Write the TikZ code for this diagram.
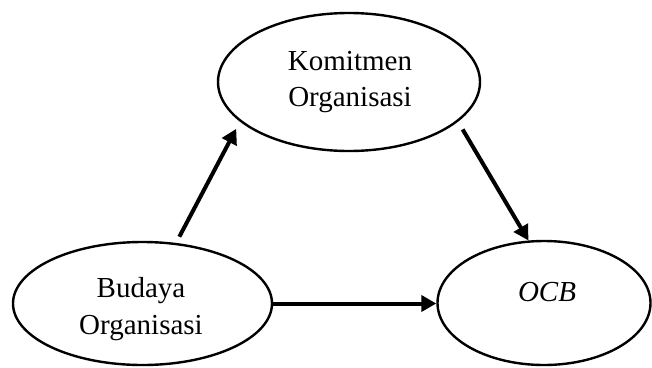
\documentclass[tikz,border=0pt]{standalone}
\usepackage{fontspec}
\setmainfont{Liberation Serif}
\usetikzlibrary{arrows.meta, shapes.geometric}
\tikzset{
  oval/.style={draw, ellipse, line width=2.4pt, inner sep=0pt},
  termtext/.style={align=center, inner sep=0pt, font=\fontsize{29}{36.5}\selectfont},
  linkarrow/.style={line width=4pt, -{Triangle[length=15pt,width=16pt]}},
}

\begin{document}
\begin{tikzpicture}[x=1pt, y=-1pt]
    \useasboundingbox (0,0) rectangle (652,367);

    % Draw the three variables
    \node[oval, minimum width=262pt, minimum height=138pt] (kom) at (349,82) {};
    \node[oval, minimum width=259pt, minimum height=123pt] (bud) at (142.5,303.5) {};
    \node[oval, minimum width=213pt, minimum height=124pt] (ocb) at (544,303) {};

    % Add the labels
    \node[termtext] (komtext) at (350,82) {Komitmen\\Organisasi};
    \node[termtext] (budtext) at (141,309) {Budaya\\Organisasi};
    \node[termtext] (ocbtext) at (547,292.5) {\textit{OCB}};

    % Draw the paths
    \draw[linkarrow, shorten <=7pt, shorten >=8pt] (bud.61.5) -- (kom.200);
    \draw[linkarrow, shorten <=9pt] (kom.340.7) -- (ocb.104.6);
    \draw[linkarrow] (bud.east) -- (bud.east -| ocb.west);
\end{tikzpicture}
\end{document}
